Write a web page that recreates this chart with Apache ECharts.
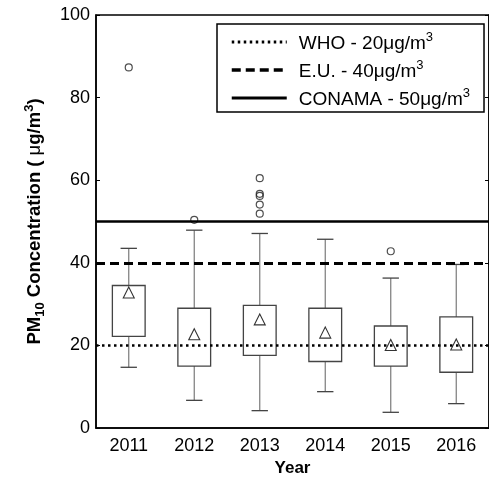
<!DOCTYPE html>
<html>
<head>
<meta charset="utf-8">
<script src="https://cdn.jsdelivr.net/npm/echarts@6/dist/echarts.min.js"></script>
<style>
  html, body { margin: 0; padding: 0; background: #fff; }
  #chart { width: 489px; height: 482px; }
</style>
</head>
<body>
<div id="chart"></div>
<script>
// yearly PM10 box statistics (ug/m3)
const years = ['2011', '2012', '2013', '2014', '2015', '2016']
const whiskerLow = [14.7, 6.7, 4.2, 8.8, 3.8, 5.9]
const q1 = [22.2, 15.0, 17.6, 16.1, 15.0, 13.5]
const q3 = [34.5, 29.0, 29.7, 29.0, 24.7, 26.9]
const whiskerHigh = [43.5, 47.9, 47.1, 45.7, 36.3, 39.6]
const means = [32.8, 22.7, 26.3, 23.1, 20.1, 20.2]
// outliers as [year index, value]
const outliers = [[0, 87.3], [1, 50.4], [2, 60.5], [2, 56.7], [2, 56.2], [2, 54.1], [2, 51.9], [4, 42.8]]
// reference limits
const limitNames = ['WHO', 'E.U.', 'CONAMA']
const limitValues = [20, 40, 50]
const yTicks = [0, 20, 40, 60, 80, 100]

const font = 'Liberation Sans, Arial, sans-serif'
const chart = echarts.init(document.getElementById('chart'))

const boxData = years.map((y, i) => [i, whiskerLow[i], q1[i], q3[i], whiskerHigh[i]])

function renderBox(params, api) {
  const x = api.value(0)
  const lo = api.coord([x, api.value(1)])
  const b1 = api.coord([x, api.value(2)])
  const b3 = api.coord([x, api.value(3)])
  const hi = api.coord([x, api.value(4)])
  const band = api.size([1, 0])[0]
  const bw = band * 0.5
  const cw = band * 0.25
  const cx = lo[0]
  const whisker = { stroke: '#7a7a7a', lineWidth: 1.2 }
  const cap = { stroke: '#444', lineWidth: 1.3 }
  return {
    type: 'group',
    children: [
      { type: 'line', shape: { x1: cx, y1: hi[1], x2: cx, y2: b3[1] }, style: whisker },
      { type: 'line', shape: { x1: cx, y1: b1[1], x2: cx, y2: lo[1] }, style: whisker },
      { type: 'line', shape: { x1: cx - cw / 2, y1: hi[1], x2: cx + cw / 2, y2: hi[1] }, style: cap },
      { type: 'line', shape: { x1: cx - cw / 2, y1: lo[1], x2: cx + cw / 2, y2: lo[1] }, style: cap },
      {
        type: 'rect',
        shape: { x: cx - bw / 2, y: b3[1], width: bw, height: b1[1] - b3[1] },
        style: { fill: 'none', stroke: '#444', lineWidth: 1.3 }
      }
    ]
  }
}

const limitStyles = [
  { type: [2.5, 3.5], width: 2.5 },
  { type: [9, 5], width: 3 },
  { type: 'solid', width: 2.5 }
]

const limitSeries = limitNames.map((name, i) => ({
  name: name,
  type: 'line',
  data: [],
  symbol: 'none',
  lineStyle: { color: '#000', type: limitStyles[i].type, width: limitStyles[i].width },
  itemStyle: { color: '#000' },
  markLine: {
    silent: true,
    symbol: 'none',
    label: { show: false },
    lineStyle: { color: '#000', type: limitStyles[i].type, width: limitStyles[i].width },
    data: [{ yAxis: limitValues[i] }]
  },
  z: 5
}))

const option = {
  animation: false,
  textStyle: { fontFamily: font },
  grid: {
    left: 96, top: 15, width: 397, height: 418,
    show: true, borderColor: '#000', borderWidth: 1.5, backgroundColor: 'transparent'
  },
  legend: {
    left: 217, top: 24,
    orient: 'vertical',
    backgroundColor: '#fff',
    borderColor: '#000', borderWidth: 1.5, borderRadius: 0,
    padding: [7, 14, 3, 13],
    itemWidth: 55, itemHeight: 14, itemGap: 6,
    itemStyle: { color: 'transparent', borderWidth: 0, opacity: 0 },
    selectedMode: false,
    data: limitNames.map((name, i) => ({
      name: name,
      lineStyle: { color: '#000', type: limitStyles[i].type, width: limitStyles[i].width + 0.5 }
    })),
    formatter: name => {
      const v = limitValues[limitNames.indexOf(name)]
      return '{t|' + name + ' - ' + v + 'μg/m}{s|3}'
    },
    textStyle: {
      padding: [0, 0, 0, 7],
      rich: {
        t: { fontFamily: font, fontSize: 19, color: '#000', lineHeight: 22, verticalAlign: 'bottom' },
        s: { fontFamily: font, fontSize: 13, color: '#000', lineHeight: 22, verticalAlign: 'top' }
      }
    }
  },
  xAxis: {
    type: 'category',
    data: years,
    name: 'Year',
    nameLocation: 'middle',
    nameGap: 32,
    nameTextStyle: { fontFamily: font, fontSize: 17, fontWeight: 'bold', color: '#000' },
    axisLine: { lineStyle: { color: '#000', width: 1.5 } },
    axisTick: { show: false },
    axisLabel: { fontFamily: font, fontSize: 18, color: '#000', margin: 9 },
    splitLine: { show: false }
  },
  yAxis: [
    {
      type: 'value',
      min: yTicks[0], max: yTicks[yTicks.length - 1], interval: 20,
      name: '{b|PM}{sub|10}{b| Concentration ( }{m|μ}{b|g/m}{sup|3}{b|)}',
      nameLocation: 'middle',
      nameRotate: 90,
      nameGap: 49,
      nameTextStyle: {
        rich: {
          b: { fontFamily: font, fontSize: 18.5, fontWeight: 'bold', color: '#000', lineHeight: 24, verticalAlign: 'middle' },
          m: { fontFamily: font, fontSize: 18.5, color: '#000', lineHeight: 24, verticalAlign: 'middle' },
          sub: { fontFamily: font, fontSize: 13, fontWeight: 'bold', color: '#000', lineHeight: 24, verticalAlign: 'bottom' },
          sup: { fontFamily: font, fontSize: 13, fontWeight: 'bold', color: '#000', lineHeight: 24, verticalAlign: 'top' }
        }
      },
      axisLine: { show: true, lineStyle: { color: '#000', width: 1.5 } },
      axisTick: { show: true, inside: true, length: 4, lineStyle: { color: '#000' } },
      axisLabel: { fontFamily: font, fontSize: 18, color: '#000', margin: 6 },
      splitLine: { show: false }
    },
    {
      type: 'value',
      position: 'right',
      min: yTicks[0], max: yTicks[yTicks.length - 1], interval: 20,
      axisLine: { show: true, lineStyle: { color: '#000', width: 1.5 } },
      axisTick: { show: true, inside: true, length: 4, lineStyle: { color: '#000' } },
      axisLabel: { show: false },
      splitLine: { show: false }
    }
  ],
  series: [
    {
      type: 'custom',
      renderItem: renderBox,
      encode: { x: 0, y: [1, 2, 3, 4] },
      data: boxData,
      silent: true,
      z: 2
    },
    {
      type: 'scatter',
      symbol: 'triangle',
      symbolSize: 11,
      itemStyle: { color: 'transparent', borderColor: '#000', borderWidth: 1.1 },
      data: means.map((v, i) => [i, v]),
      z: 3
    },
    {
      type: 'scatter',
      symbol: 'circle',
      symbolSize: 7,
      itemStyle: { color: 'transparent', borderColor: '#222', borderWidth: 1.2 },
      data: outliers,
      z: 3
    },
    ...limitSeries
  ]
}

chart.setOption(option)
</script>
</body>
</html>
